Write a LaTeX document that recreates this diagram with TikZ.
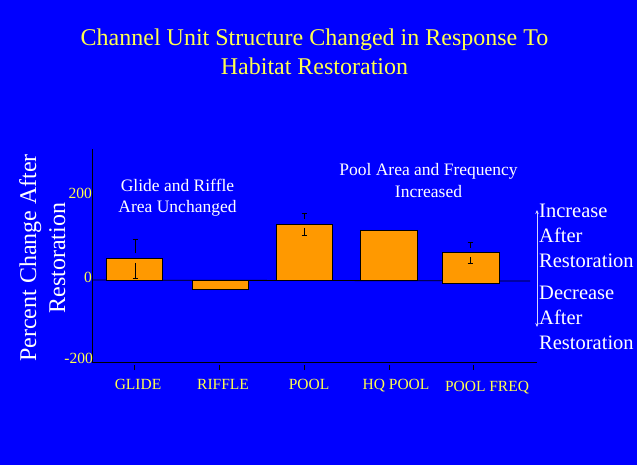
\documentclass[tikz,border=0pt]{standalone}
\usepackage{fontspec}
\setmainfont{Liberation Serif}
\usepackage{xcolor}
\usepackage{tikz}
\usetikzlibrary{arrows.meta}
\definecolor{sblue}{HTML}{0000FF}
\definecolor{sorange}{HTML}{FF9900}
\definecolor{syellow}{HTML}{FFFF4D}
\definecolor{slav}{HTML}{D4D4FF}

\begin{document}
\begin{tikzpicture}[
    x=1pt,y=-1pt,
    bar/.style={draw=black,fill=sorange,line width=0.9pt},
    errb/.style={draw=black,line width=0.8pt},
    axis/.style={draw=black,line width=0.8pt},
    ttl/.style={text=syellow,font=\fontsize{24}{29}\selectfont,
                align=center,inner sep=0pt},
    ylab/.style={text=white,font=\fontsize{24}{29}\selectfont,
                 align=center,inner sep=0pt},
    note/.style={text=white,font=\fontsize{17.5}{21}\selectfont,
                 align=center,inner sep=0pt},
    side/.style={text=white,font=\fontsize{20.5}{25}\selectfont,
                 align=left,inner sep=0pt},
    tklbl/.style={text=syellow,font=\fontsize{15.5}{18}\selectfont,inner sep=0pt},
    cat/.style={text=syellow,font=\fontsize{15.5}{18}\selectfont,inner sep=0pt}
  ]
    \fill[sblue] (0,0) rectangle (637,465);
    \useasboundingbox (0,0) rectangle (637,465);

    % Title
    \node[ttl,anchor=base] (title) at (314.5,75)
      {Channel Unit Structure Changed in Response To\\Habitat Restoration};

    % Axes
    \draw[axis] (92,149) -- (92,362) -- (537,362);
    \draw[axis] (92,280) -- (530,281);
    \draw[axis] (134,365) -- (134,370) (219,365) -- (219,370)
      (304,365) -- (304,370) (389,365) -- (389,370) (473,365) -- (473,370);

    \node[ylab,rotate=90,anchor=base] (ylabel) at (65,258)
      {Percent Change After\\Restoration};
    \node[tklbl,anchor=base east] (t200) at (92,199) {200};
    \node[tklbl,anchor=base east] (t0)   at (92,282) {0};
    \node[tklbl,anchor=base east] (tm200) at (93,363) {-200};

    % Bars
    \filldraw[bar] (106,258) rectangle (162,280);
    \filldraw[bar] (192,280) rectangle (248,289);
    \filldraw[bar] (276,224) rectangle (332,280);
    \filldraw[bar] (360,230) rectangle (417,280);
    \filldraw[bar] (442,252) rectangle (499,283);

    % Error bars
    \draw[errb] (132.5,239) -- (137.5,239) (135,239) -- (135,253)
      (135,263) -- (135,278) (132.5,278) -- (137.5,278);
    \draw[errb] (301.5,213) -- (306.5,213) (304,213) -- (304,219)
      (304,228) -- (304,235) (301.5,235) -- (306.5,235);
    \draw[errb] (467.5,242) -- (472.5,242) (470,242) -- (470,248)
      (470,257) -- (470,263) (467.5,263) -- (472.5,263);

    % Categories
    \node[cat,anchor=base] (glide)  at (138,389) {GLIDE};
    \node[cat,anchor=base] (riffle) at (223,389) {RIFFLE};
    \node[cat,anchor=base] (pool)   at (309,389) {POOL};
    \node[cat,anchor=base] (hqpool) at (396,389) {HQ POOL};
    \node[cat,anchor=base] (pfreq)  at (487,391) {POOL FREQ};

    % Notes
    \node[note,anchor=base] (glnote) at (177.5,213)
      {Glide and Riffle\\Area Unchanged};
    \node[note,anchor=base] (plnote) at (428.5,197)
      {Pool Area and Frequency\\Increased};

    % Direction key
    \node[side,anchor=base west] (incr) at (539,267)
      {Increase\\After\\Restoration};
    \node[side,anchor=base west] (decr) at (539,349)
      {Decrease\\After\\Restoration};
    \coordinate (uptip) at (537,210);
    \coordinate (dntip) at (537,327);
    \draw[slav,line width=0.9pt,
      {Stealth[length=4pt,width=3.5pt]}-{Stealth[length=4pt,width=3.5pt]}]
      (uptip) -- (dntip);

  \end{tikzpicture}
\end{document}
